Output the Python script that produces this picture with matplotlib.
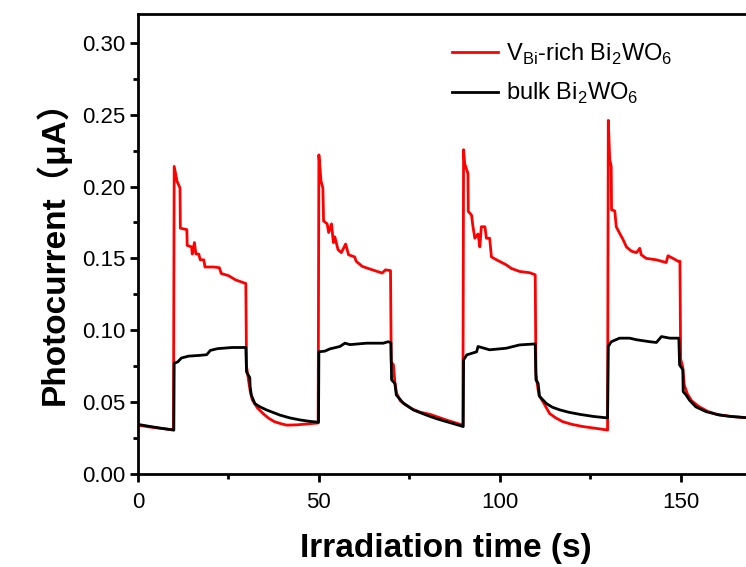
import numpy as np
import matplotlib
matplotlib.use("Agg")
import matplotlib.pyplot as plt
from matplotlib.ticker import MultipleLocator

plt.rcParams['font.family'] = ['Liberation Sans', 'Noto Sans CJK SC', 'DejaVu Sans']
plt.rcParams['mathtext.fontset'] = 'custom'
plt.rcParams['mathtext.rm'] = 'Liberation Sans'

# photocurrent (time in s, current in uA)
t_vbi = [0, 3, 6, 9.8,
         10.0, 10.8, 11.6, 11.7, 13.5, 13.6, 14.8, 15.0, 15.6, 16.0, 16.8, 17.2, 18.2, 18.5, 21.0, 22.5, 23.0, 25.0, 27.0, 29.8,
         30.0, 30.5, 31.0, 31.6, 33.0, 34.6, 36.0, 37.7, 39.5, 41.1, 44.0, 46.6, 49.8,
         50.0, 50.6, 51.1, 51.3, 52.3, 52.7, 53.5, 54.0, 54.4, 55.3, 56.2, 57.4, 58.2, 59.9, 60.3, 62.0, 64.8, 67.5, 68.4, 69.8,
         70.0, 70.6, 71.0, 71.5, 72.5, 74.0, 76.0, 78.0, 80.7, 83.0, 85.3, 87.5, 89.8,
         90.0, 90.3, 91.2, 91.3, 92.2, 92.6, 93.1, 94.0, 94.5, 94.9, 95.9, 96.3, 97.2, 97.7, 99.1, 101.8, 103.2, 105.5, 108.3, 109.8,
         110.0, 110.4, 110.8, 112.0, 113.8, 115.5, 117.4, 120.0, 123.0, 126.5, 129.8,
         130.0, 130.4, 130.8, 130.9, 131.8, 132.2, 133.1, 134.1, 135.0, 136.4, 137.8, 138.7, 139.1, 140.5, 143.3, 146.0, 146.5, 147.9, 149.3, 149.8,
         150.0, 150.6, 151.0, 151.8, 153.0, 155.0, 157.5, 160.0, 164.0, 168.0, 170.0]
i_vbi = [0.034, 0.0328, 0.0318, 0.0308,
         0.214, 0.2036, 0.199, 0.171, 0.170, 0.159, 0.158, 0.153, 0.161, 0.153, 0.153, 0.149, 0.149, 0.144, 0.144, 0.1435, 0.1395, 0.138, 0.135, 0.1325,
         0.075, 0.066, 0.058, 0.0515, 0.046, 0.042, 0.039, 0.0364, 0.035, 0.034, 0.0342, 0.0348, 0.0355,
         0.222, 0.2036, 0.199, 0.176, 0.174, 0.168, 0.174, 0.161, 0.165, 0.156, 0.154, 0.160, 0.1525, 0.151, 0.148, 0.1444, 0.142, 0.1398, 0.142, 0.1415,
         0.078, 0.076, 0.064, 0.056, 0.051, 0.048, 0.045, 0.043, 0.0415, 0.0395, 0.0375, 0.0358, 0.034,
         0.2256, 0.216, 0.209, 0.1827, 0.180, 0.172, 0.164, 0.167, 0.158, 0.172, 0.172, 0.164, 0.164, 0.151, 0.149, 0.1455, 0.143, 0.1409, 0.140, 0.1386,
         0.070, 0.062, 0.055, 0.050, 0.042, 0.039, 0.0364, 0.0345, 0.033, 0.0318, 0.0306,
         0.246, 0.2187, 0.214, 0.1838, 0.183, 0.172, 0.1676, 0.163, 0.158, 0.155, 0.154, 0.157, 0.1525, 0.150, 0.149, 0.1471, 0.1518, 0.150, 0.148, 0.148,
         0.080, 0.074, 0.062, 0.056, 0.051, 0.047, 0.0435, 0.0415, 0.040, 0.0392, 0.039]

t_bulk = [0, 3, 6, 9.9,
          10.0, 11.0, 12.0, 14.0, 17.0, 19.0, 20.0, 22.0, 26.0, 29.8,
          30.0, 30.9, 31.0, 31.3, 32.3, 33.5, 35.5, 39.2, 42.0, 44.8, 47.5, 49.9,
          50.0, 51.7, 53.0, 55.8, 57.2, 58.6, 63.2, 67.8, 69.1, 69.9,
          70.1, 71.0, 71.4, 73.3, 76.1, 79.7, 82.5, 85.3, 87.5, 89.9,
          90.0, 90.9, 93.6, 94.0, 97.2, 101.8, 105.5, 109.8,
          110.0, 110.6, 111.0, 112.9, 114.5, 116.6, 119.0, 122.1, 126.0, 129.8,
          130.0, 130.8, 133.1, 135.9, 137.8, 141.5, 143.3, 144.7, 147.0, 149.5,
          149.7, 150.6, 150.7, 151.5, 152.4, 154.2, 157.0, 160.7, 164.0, 168.0, 170.0]
i_bulk = [0.0345, 0.0332, 0.032, 0.0305,
          0.077, 0.078, 0.0807, 0.082, 0.0825, 0.083, 0.086, 0.0872, 0.088, 0.088,
          0.071, 0.067, 0.061, 0.055, 0.049, 0.047, 0.0446, 0.041, 0.039, 0.0376, 0.0366, 0.036,
          0.085, 0.0855, 0.087, 0.0887, 0.091, 0.090, 0.091, 0.091, 0.092, 0.0915,
          0.0655, 0.063, 0.055, 0.0494, 0.0446, 0.041, 0.0385, 0.0364, 0.0348, 0.033,
          0.0794, 0.0829, 0.085, 0.0887, 0.0864, 0.0875, 0.0898, 0.0905,
          0.0655, 0.063, 0.054, 0.049, 0.0465, 0.0446, 0.043, 0.0415, 0.040, 0.039,
          0.0887, 0.092, 0.0945, 0.0945, 0.0934, 0.092, 0.0915, 0.0956, 0.0945, 0.0945,
          0.0759, 0.0725, 0.0573, 0.055, 0.0515, 0.0467, 0.0434, 0.041, 0.0400, 0.0392, 0.039]

fig = plt.figure(figsize=(7.46, 5.67), dpi=100)
# right spine sits just outside the picture, like the cropped original
ax = fig.add_axes([138 / 746, 93 / 567, 615 / 746, 460 / 567])

ax.plot(t_vbi, i_vbi, color='red', lw=2.0,
        label=r'V$_{\mathregular{Bi}}$-rich Bi$_{\mathregular{2}}$WO$_{\mathregular{6}}$')
ax.plot(t_bulk, i_bulk, color='black', lw=2.0,
        label=r'bulk Bi$_{\mathregular{2}}$WO$_{\mathregular{6}}$')

ax.set_xlim(0, 170)
ax.set_ylim(0, 0.32)
ax.xaxis.set_major_locator(MultipleLocator(50))
ax.xaxis.set_minor_locator(MultipleLocator(25))
ax.yaxis.set_major_locator(MultipleLocator(0.05))
ax.yaxis.set_minor_locator(MultipleLocator(0.025))
ax.yaxis.set_major_formatter(plt.FormatStrFormatter('%.2f'))

for s in ax.spines.values():
    s.set_linewidth(2.0)
ax.tick_params(which='major', direction='out', length=6, width=2.0, labelsize=16)
ax.tick_params(which='minor', direction='out', length=3.5, width=2.0)
ax.tick_params(axis='x', which='major', pad=7)
ax.tick_params(axis='y', which='major', pad=3)

ax.set_xlabel('Irradiation time (s)', fontsize=24, fontweight='bold', labelpad=14)
ax.set_ylabel('Photocurrent（μA）', fontsize=24, fontweight='bold', labelpad=8)

ax.legend(loc='upper left', bbox_to_anchor=(0.51, 0.94), frameon=False,
          fontsize=17, handlelength=1.95, handletextpad=0.35, labelspacing=0.6,
          borderpad=0, borderaxespad=0)

fig.savefig('out.png', dpi=100)
